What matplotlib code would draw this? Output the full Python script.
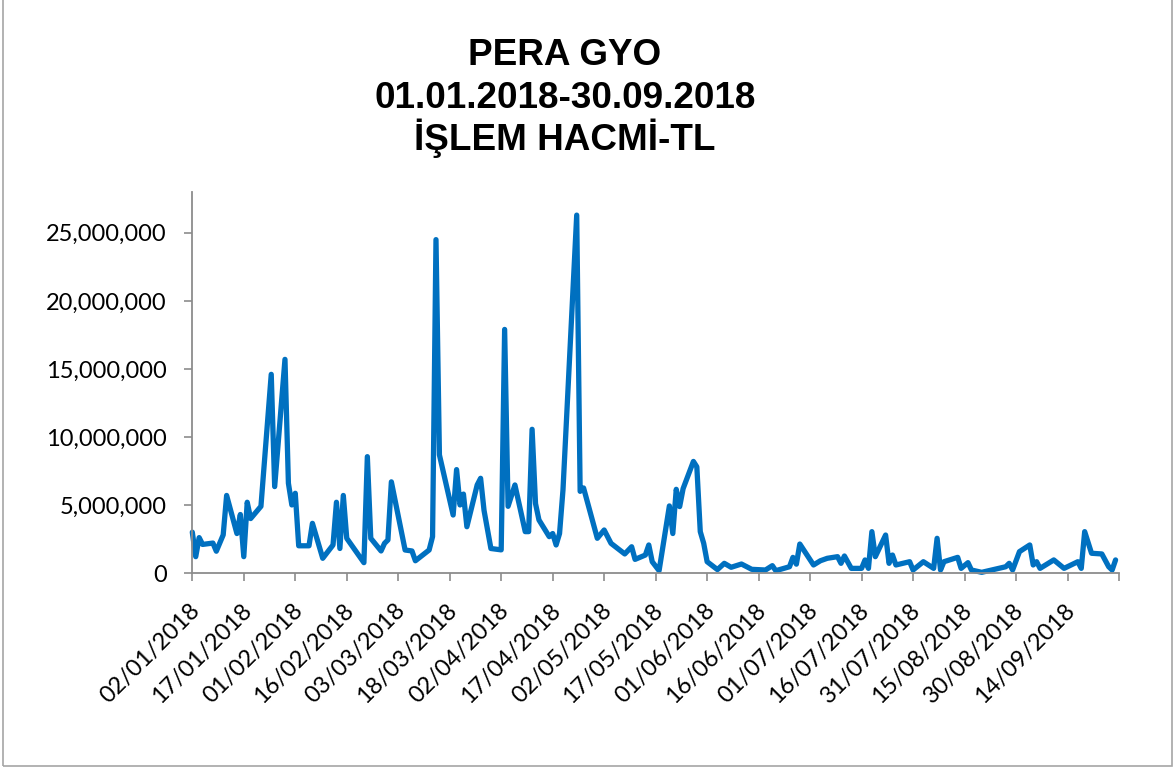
import matplotlib
matplotlib.use("Agg")
import matplotlib.pyplot as plt
import matplotlib.transforms as mtransforms
from matplotlib.patches import Rectangle
from matplotlib.ticker import FuncFormatter
import numpy as np
import pandas as pd

# ---- data (trading volume, million TL) ----
dates = [
    "2018-01-02", "2018-01-03", "2018-01-04", "2018-01-05", "2018-01-08", "2018-01-09",
    "2018-01-11", "2018-01-12", "2018-01-15", "2018-01-16", "2018-01-17", "2018-01-18",
    "2018-01-19", "2018-01-22", "2018-01-25", "2018-01-26", "2018-01-29", "2018-01-30",
    "2018-01-31", "2018-02-01", "2018-02-02", "2018-02-05", "2018-02-06", "2018-02-09",
    "2018-02-12", "2018-02-13", "2018-02-14", "2018-02-15", "2018-02-16", "2018-02-21",
    "2018-02-22", "2018-02-23", "2018-02-26", "2018-02-27", "2018-02-28", "2018-03-01",
    "2018-03-05", "2018-03-07", "2018-03-08", "2018-03-12", "2018-03-13", "2018-03-14",
    "2018-03-15", "2018-03-19", "2018-03-20", "2018-03-21", "2018-03-22", "2018-03-23",
    "2018-03-26", "2018-03-27", "2018-03-28", "2018-03-30", "2018-04-02", "2018-04-03",
    "2018-04-04", "2018-04-06", "2018-04-09", "2018-04-10", "2018-04-11", "2018-04-12",
    "2018-04-13", "2018-04-16", "2018-04-17", "2018-04-18", "2018-04-19", "2018-04-20",
    "2018-04-24", "2018-04-25", "2018-04-26", "2018-04-30", "2018-05-02", "2018-05-04",
    "2018-05-08", "2018-05-10", "2018-05-11", "2018-05-14", "2018-05-15", "2018-05-16",
    "2018-05-18", "2018-05-21", "2018-05-22", "2018-05-23", "2018-05-24", "2018-05-25",
    "2018-05-28", "2018-05-29", "2018-05-30", "2018-05-31", "2018-06-01", "2018-06-04",
    "2018-06-06", "2018-06-08", "2018-06-11", "2018-06-14", "2018-06-18", "2018-06-20",
    "2018-06-21", "2018-06-25", "2018-06-26", "2018-06-27", "2018-06-28", "2018-07-02",
    "2018-07-04", "2018-07-06", "2018-07-09", "2018-07-10", "2018-07-11", "2018-07-13",
    "2018-07-16", "2018-07-17", "2018-07-18", "2018-07-19", "2018-07-20", "2018-07-23",
    "2018-07-24", "2018-07-25", "2018-07-26", "2018-07-30", "2018-07-31", "2018-08-03",
    "2018-08-06", "2018-08-07", "2018-08-08", "2018-08-09", "2018-08-13", "2018-08-14",
    "2018-08-16", "2018-08-17", "2018-08-20", "2018-08-27", "2018-08-28", "2018-08-29",
    "2018-08-31", "2018-09-03", "2018-09-04", "2018-09-05", "2018-09-06", "2018-09-10",
    "2018-09-13", "2018-09-17", "2018-09-18", "2018-09-19", "2018-09-21", "2018-09-24",
    "2018-09-26", "2018-09-27", "2018-09-28",
]
volume_mtl = [
    3.0, 1.2, 2.6, 2.1, 2.2, 1.6,
    2.8, 5.7, 2.9, 4.3, 1.2, 5.2,
    4.0, 4.9, 14.6, 6.35, 15.7, 6.6,
    5.0, 5.86, 2.0, 2.0, 3.65, 1.08,
    2.06, 5.2, 1.8, 5.7, 2.55, 0.76,
    8.55, 2.55, 1.62, 2.18, 2.43, 6.7,
    1.69, 1.62, 0.9, 1.69, 2.67, 24.5,
    8.68, 4.26, 7.6, 5.0, 5.8, 3.4,
    6.47, 6.96, 4.6, 1.8, 1.7, 17.9,
    4.9, 6.47, 3.04, 3.04, 10.56, 5.1,
    3.9, 2.67, 2.9, 2.06, 2.9, 6.1,
    26.3, 6.0, 6.25, 2.55, 3.16, 2.18,
    1.4, 1.93, 1.0, 1.32, 2.06, 0.83,
    0.17, 4.93, 2.9, 6.15, 4.88, 6.2,
    8.2, 7.8, 3.04, 2.18, 0.83, 0.25,
    0.71, 0.42, 0.66, 0.27, 0.22, 0.54,
    0.17, 0.46, 1.15, 0.65, 2.13, 0.59,
    0.9, 1.08, 1.2, 0.71, 1.25, 0.34,
    0.34, 0.96, 0.34, 3.04, 1.2, 2.79,
    0.71, 1.32, 0.59, 0.83, 0.22, 0.83,
    0.34, 2.55, 0.22, 0.83, 1.15, 0.34,
    0.76, 0.22, 0.05, 0.46, 0.71, 0.22,
    1.57, 2.06, 0.59, 0.83, 0.34, 0.96,
    0.34, 0.83, 0.34, 3.04, 1.45, 1.4,
    0.46, 0.22, 0.96,
]
tick_dates = [
    "2018-01-02", "2018-01-17", "2018-02-01", "2018-02-16", "2018-03-03", "2018-03-18",
    "2018-04-02", "2018-04-17", "2018-05-02", "2018-05-17", "2018-06-01", "2018-06-16",
    "2018-07-01", "2018-07-16", "2018-07-31", "2018-08-15", "2018-08-30", "2018-09-14",
    "2018-09-29",
]
tick_labels = [
    "02/01/2018", "17/01/2018", "01/02/2018", "16/02/2018", "03/03/2018", "18/03/2018",
    "02/04/2018", "17/04/2018", "02/05/2018", "17/05/2018", "01/06/2018", "16/06/2018",
    "01/07/2018", "16/07/2018", "31/07/2018", "15/08/2018", "30/08/2018", "14/09/2018",
    "",
]
y_ticks = [0, 5_000_000, 10_000_000, 15_000_000, 20_000_000, 25_000_000]
title_lines = ["PERA GYO", "01.01.2018-30.09.2018", "İŞLEM HACMİ-TL"]

W, H = 1176, 769
fig = plt.figure(figsize=(W / 100, H / 100), dpi=100)
fig.patch.set_facecolor("white")

# chart-area border
fig.patches.append(Rectangle((3 / W, 3 / H), 1169 / W, 780 / H, transform=fig.transFigure,
                             fill=False, edgecolor="#a6a6a6", linewidth=1.2, clip_on=False))

left, right, bottom, top = 192.3, 1119, 573, 192
ax = fig.add_axes([left / W, (H - bottom) / H, (right - left) / W, (bottom - top) / H])

x = pd.to_datetime(dates)
y = np.array(volume_mtl) * 1e6
ax.plot(x, y, color="#0070C0", linewidth=3.8, solid_joinstyle="round", solid_capstyle="round",
        clip_on=False)

ax.set_xlim(pd.Timestamp("2018-01-02"), pd.Timestamp("2018-09-29"))
ax.set_ylim(0, 28_000_000)

for s in ("top", "right"):
    ax.spines[s].set_visible(False)
for s in ("left", "bottom"):
    ax.spines[s].set_color("#8c8c8c")
    ax.spines[s].set_linewidth(1.3)

ax.set_yticks(y_ticks)
ax.yaxis.set_major_formatter(FuncFormatter(lambda v, p: f"{v:,.0f}"))
ax.set_xticks(pd.to_datetime(tick_dates))
ax.set_xticklabels(tick_labels)

lab_font = "Lato"
ax.tick_params(axis="both", direction="out", length=5.8, width=1.2, color="#8c8c8c",
               labelsize=17, labelcolor="black")
ax.tick_params(axis="y", pad=12.5)
ax.tick_params(axis="x", pad=18.5)
for t in ax.get_yticklabels():
    t.set_fontfamily(lab_font)
offset = mtransforms.ScaledTranslation(4 / 100, 0, fig.dpi_scale_trans)
for t in ax.get_xticklabels():
    t.set_fontfamily(lab_font)
    t.set_rotation(45)
    t.set_ha("right")
    t.set_va("center")
    t.set_rotation_mode("anchor")
    t.set_transform(t.get_transform() + offset)

baselines = [65, 107.5, 150]
for line, b in zip(title_lines, baselines):
    fig.text(565 / W, 1 - b / H, line, ha="center", va="baseline",
             fontfamily="Liberation Sans", fontweight="bold", fontsize=26.6, color="black")

fig.savefig("out.png", dpi=100, facecolor="white")
